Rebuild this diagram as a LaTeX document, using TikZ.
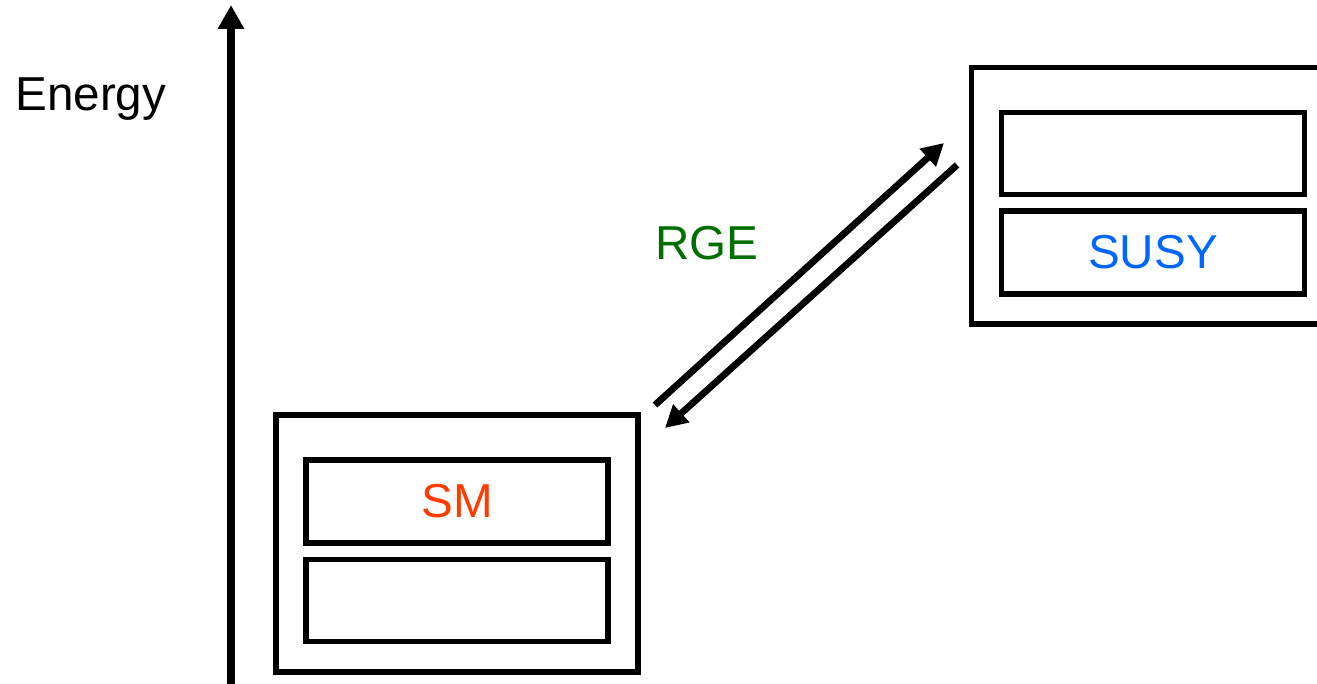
\documentclass[tikz,border=0pt]{standalone}
\usepackage{fontspec}
\setmainfont{Liberation Sans}
\usetikzlibrary{arrows.meta}
\definecolor{smred}{RGB}{255,60,0}
\definecolor{susyblue}{RGB}{0,102,255}
\definecolor{rgegreen}{RGB}{0,110,0}
\begin{document}
\begin{tikzpicture}[x=0.5pt,y=-0.5pt,
  frame/.style={draw=black,line width=2.9pt,inner sep=0pt,outer sep=0pt,fill=none},
  label/.style={font=\fontsize{23.8pt}{28pt}\selectfont,inner sep=0pt},
  axis/.style={line width=3.6pt,-{Triangle[length=12pt,width=12.5pt]}},
  flow/.style={line width=3.4pt,-{Triangle[length=11pt,width=11.5pt]}}]
\useasboundingbox (0,0) rectangle (1317,684);

% energy axis
\coordinate (axbot) at (231,690);
\coordinate (axtop) at (231,5);
\draw[axis] (axbot) -- (axtop);
\node[label,anchor=base west] (energy) at (15,111) {Energy};

% low-scale block
\node[frame,minimum width=181pt,minimum height=128.5pt] (smout) at (456.75,543.5) {};
\node[frame,minimum width=151pt,minimum height=41.5pt,label,text=smred] (smtop) at (457,501.5) {SM};
\node[frame,minimum width=151pt,minimum height=41pt] (smbot) at (457,600.5) {};

% high-scale block
\node[frame,minimum width=184.25pt,minimum height=128.25pt] (susyout) at (1155.75,195.75) {};
\node[frame,minimum width=151.5pt,minimum height=41pt] (susytop) at (1153,153.5) {};
\node[frame,minimum width=151.5pt,minimum height=41.5pt,label,text=susyblue] (susybot) at (1153,252.5) {SUSY};

% running between the scales
\coordinate (upfrom) at (655,405);
\coordinate (upto) at (944,143);
\coordinate (downfrom) at (957,165);
\coordinate (downto) at (665,428);
\draw[flow] (upfrom) -- (upto);
\draw[flow] (downfrom) -- (downto);
\node[label,text=rgegreen] (rge) at (707,243) {RGE};
\end{tikzpicture}
\end{document}
